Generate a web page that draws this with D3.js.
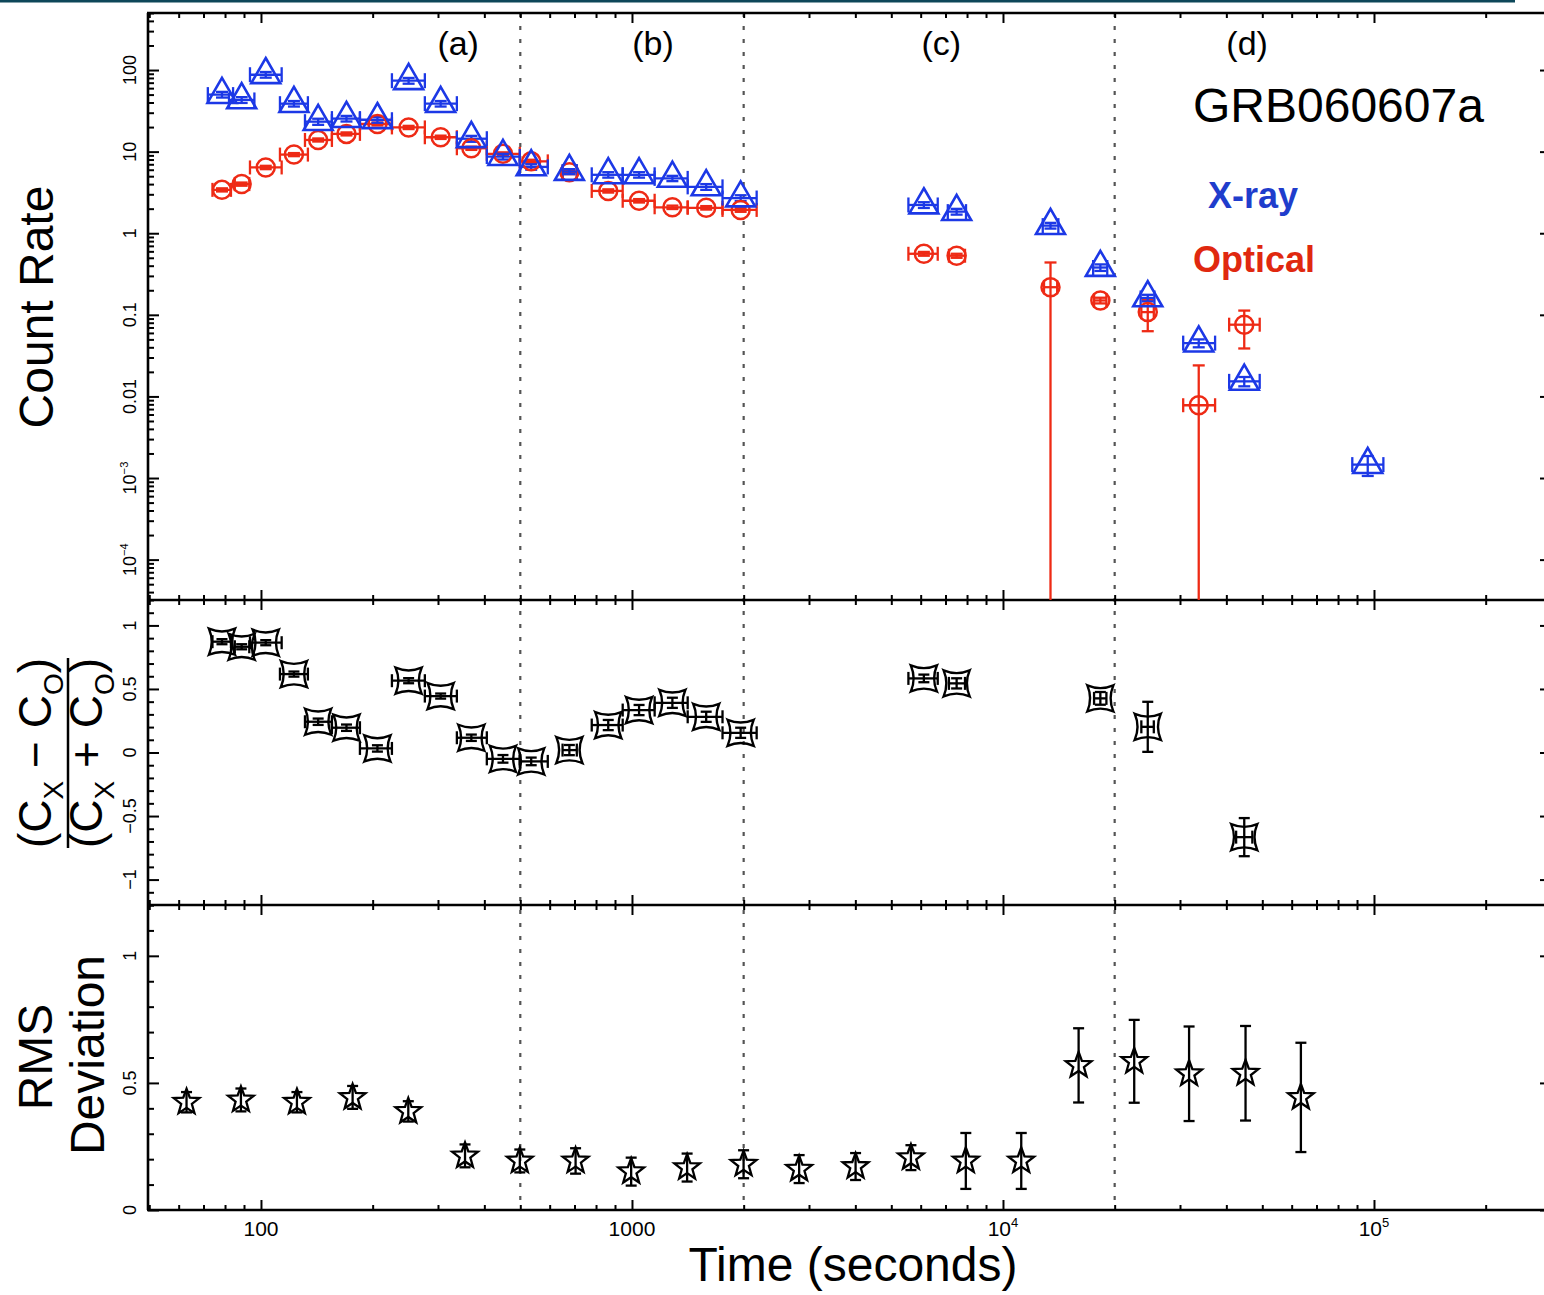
<!DOCTYPE html>
<html>
<head>
<meta charset="utf-8">
<script src="https://cdn.jsdelivr.net/npm/d3@7"></script>
<style>
body{margin:0;background:#fff;}
svg text{font-family:"Liberation Sans",Arial,Helvetica,sans-serif;fill:#000;}
</style>
</head>
<body>
<div id="graph"></div>
<script>
// ---- top panel: X-ray count rate (blue triangles)
var xray_t    = [78.5, 88.7, 103, 122.7, 142.6, 170, 206, 250, 305, 369, 449, 535, 678, 863, 1045, 1285, 1585, 1963, 6120, 7500, 13430, 18300, 24560, 33700, 44700, 96200];
var xray_tlo  = [71.9, 82, 93.4, 112.5, 131.4, 155.3, 184.8, 225.4, 276.5, 337.3, 406.2, 498.4, 650, 779, 944, 1151, 1413, 1754, 5560, 7100, 12800, 17500, 23500, 30600, 40700, 87400];
var xray_thi  = [84.1, 96, 113.7, 133.8, 155.3, 184.8, 225.4, 276.5, 337.3, 406.2, 498.4, 593, 710, 944, 1151, 1413, 1754, 2168, 6670, 7950, 14100, 19100, 25600, 37300, 49200, 106000];
var xray_rate = [50, 43, 87.6, 38.7, 23.3, 25.4, 24.6, 74, 38.7, 14.4, 8.7, 6.5, 5.7, 5.2, 5.2, 4.7, 3.7, 2.7, 2.22, 1.84, 1.24, 0.38, 0.161, 0.045, 0.0153, 0.00146];
var xray_err  = [4, 3.5, 7, 3, 2, 2, 2, 6, 3, 1.2, 0.7, 0.5, 0.4, 0.4, 0.4, 0.35, 0.3, 0.22, 0.18, 0.15, 0.1, 0.035, 0.015, 0.005, 0.002, 0.0004];

// ---- top panel: optical count rate (red circles)
var opt_t    = [78.5, 88.7, 103, 122.7, 142.6, 170, 206, 250, 305, 369, 449, 535, 678, 863, 1045, 1285, 1585, 1963, 6120, 7500, 13430, 18300, 24560, 33700, 44700];
var opt_tlo  = [74, 85, 93.4, 112.5, 131.4, 155.3, 184.8, 225.4, 276.5, 337.3, 406.2, 498.4, 650, 779, 944, 1151, 1413, 1754, 5560, 7150, 12900, 17600, 23600, 30600, 40700];
var opt_thi  = [83, 93, 113.7, 133.8, 155.3, 184.8, 225.4, 276.5, 337.3, 406.2, 498.4, 593, 710, 944, 1151, 1413, 1754, 2168, 6670, 7900, 14000, 19000, 25500, 37300, 49200];
var opt_rate = [3.4, 4.0, 6.4, 9.2, 13.9, 16.5, 21.8, 19.8, 15.0, 11.0, 9.4, 7.6, 5.6, 3.3, 2.5, 2.08, 2.05, 1.93, 0.56, 0.53, 0.218, 0.15, 0.108, 0.0078, 0.0757];
var opt_err  = [0.15, 0.18, 0.3, 0.4, 0.6, 0.7, 0.9, 0.9, 0.7, 0.5, 0.4, 0.35, 0.3, 0.15, 0.12, 0.1, 0.1, 0.1, 0.03, 0.03, 0.22, 0.012, 0.045, 0.0162, 0.037];

// ---- middle panel: hardness ratio (Cx-Co)/(Cx+Co)
var hr_t   = [78.5, 88.7, 103, 122.7, 142.6, 170, 206, 250, 305, 369, 449, 535, 678, 863, 1045, 1285, 1585, 1963, 6120, 7500, 18300, 24560, 44700];
var hr_tlo = [74, 85, 93.4, 112.5, 131.4, 155.3, 184.8, 225.4, 276.5, 337.3, 406.2, 498.4, 650, 779, 944, 1151, 1413, 1754, 5560, 7150, 17600, 23600, 42500];
var hr_thi = [83, 93, 113.7, 133.8, 155.3, 184.8, 225.4, 276.5, 337.3, 406.2, 498.4, 593, 710, 944, 1151, 1413, 1754, 2168, 6670, 7900, 19000, 25500, 47000];
var hr_val = [0.872, 0.832, 0.864, 0.617, 0.242, 0.195, 0.032, 0.565, 0.444, 0.116, -0.05, -0.07, 0.019, 0.216, 0.334, 0.391, 0.281, 0.155, 0.583, 0.544, 0.426, 0.202, -0.666];
var hr_err = [0.02, 0.02, 0.02, 0.02, 0.025, 0.025, 0.025, 0.02, 0.02, 0.025, 0.03, 0.03, 0.04, 0.04, 0.04, 0.04, 0.04, 0.04, 0.03, 0.04, 0.05, 0.197, 0.15];

// ---- bottom panel: RMS deviation
var rms_t   = [63, 88.3, 125, 176.6, 249.5, 354.8, 498.5, 704.7, 995, 1408, 1999, 2822, 4006, 5648, 7940, 11200, 15990, 22580, 31740, 45060, 63530];
var rms_val = [0.424, 0.433, 0.424, 0.443, 0.388, 0.213, 0.193, 0.193, 0.151, 0.167, 0.180, 0.161, 0.171, 0.206, 0.193, 0.193, 0.569, 0.585, 0.536, 0.538, 0.443];
var rms_err = [0.04, 0.045, 0.04, 0.045, 0.04, 0.045, 0.045, 0.05, 0.055, 0.055, 0.055, 0.055, 0.053, 0.049, 0.11, 0.11, 0.146, 0.163, 0.186, 0.186, 0.215];

// ---- axes / annotations
var y1_major = [1e-4, 1e-3, 0.01, 0.1, 1, 10, 100];
var y1_label = [["10","\u22124"], ["10","\u22123"], ["0.01"], ["0.1"], ["1"], ["10"], ["100"]];
var y2_major = [-1, -0.5, 0, 0.5, 1];
var y2_label = [["\u22121"], ["\u22120.5"], ["0"], ["0.5"], ["1"]];
var y3_major = [0, 0.5, 1];
var y3_label = [["0"], ["0.5"], ["1"]];
var x_major = [100, 1000, 1e4, 1e5];
var x_label = [["100"], ["1000"], ["10","4"], ["10","5"]];
var phase_bounds = [500, 2000, 20000];
var phase_names = ["(a)", "(b)", "(c)", "(d)"];
var phase_name_t = [340, 1140, 6820, 45500];

var blue = "#1c38e6", red = "#ee2a15";

var left = 148, right = 1551;
var top1 = 13, bot1 = 600, bot2 = 905, bot3 = 1210;

var svg = d3.select("#graph").append("svg")
  .attr("width", 1544)
  .attr("height", 1295);

svg.append("rect").attr("x",0).attr("y",0).attr("width",1515).attr("height",2.5).attr("fill","#0d4759");

var xscale = d3.scaleLog().domain([49.6, 3e5]).range([left, right]);
var y1 = d3.scaleLog().domain([3.2e-5, 500]).range([bot1, top1]);
var y2 = d3.scaleLinear().domain([-1.2, 1.2]).range([bot2, bot1]);
var y3 = d3.scaleLinear().domain([0, 1.2]).range([bot3, bot2]);

function log_minors(lo, hi){
  var out = [];
  for (var e = -6; e <= 6; e++){
    for (var k = 2; k <= 9; k++){
      var v = k*Math.pow(10,e);
      if (v >= lo && v <= hi) out.push(v);
    }
  }
  return out;
}
function lin_minors(lo, hi, step, majors){
  return d3.range(Math.round(lo/step), Math.round(hi/step)+1).map(function(i){ return +(i*step).toFixed(3); })
    .filter(function(v){ return majors.indexOf(v) < 0; });
}

function tick_axis(axis, vals, size, tr){
  var g = svg.append("g").attr("transform", tr);
  g.call(axis.tickValues(vals).tickSize(-size).tickSizeOuter(0).tickFormat(""));
  g.select(".domain").remove();
  g.selectAll(".tick line").attr("stroke","#000").attr("stroke-width",2);
  return g;
}

var x_minor = log_minors(49.6, 3e5);
var panels = [
  {y: y1, top: top1, bot: bot1, major: y1_major, minor: log_minors(3.2e-5, 500)},
  {y: y2, top: bot1, bot: bot2, major: y2_major, minor: lin_minors(-1.2, 1.2, 0.1, y2_major)},
  {y: y3, top: bot2, bot: bot3, major: y3_major, minor: lin_minors(0, 1.2, 0.1, y3_major)}
];

// dotted phase boundaries
phase_bounds.forEach(function(t){
  svg.append("line")
    .attr("x1", xscale(t)).attr("x2", xscale(t))
    .attr("y1", top1).attr("y2", bot3)
    .attr("stroke", "#555").attr("stroke-width", 2.2)
    .attr("stroke-dasharray", "4,9");
});

panels.forEach(function(p){
  tick_axis(d3.axisTop(xscale), x_major, 10, "translate(0," + p.top + ")");
  tick_axis(d3.axisTop(xscale), x_minor, 5, "translate(0," + p.top + ")");
  tick_axis(d3.axisBottom(xscale), x_major, 10, "translate(0," + p.bot + ")");
  tick_axis(d3.axisBottom(xscale), x_minor, 5, "translate(0," + p.bot + ")");
  tick_axis(d3.axisLeft(p.y), p.major, 11, "translate(" + left + ",0)");
  tick_axis(d3.axisLeft(p.y), p.minor, 6, "translate(" + left + ",0)");
  tick_axis(d3.axisRight(p.y), p.major, 11, "translate(" + right + ",0)");
  tick_axis(d3.axisRight(p.y), p.minor, 6, "translate(" + right + ",0)");
});

// frame
[top1, bot1, bot2, bot3].forEach(function(y){
  svg.append("line").attr("x1", left-1).attr("x2", right+1).attr("y1", y).attr("y2", y)
    .attr("stroke","#000").attr("stroke-width",2.6);
});
[left, right].forEach(function(x){
  svg.append("line").attr("x1", x).attr("x2", x).attr("y1", top1).attr("y2", bot3)
    .attr("stroke","#000").attr("stroke-width",2.6);
});

// tick labels (rotated on y axes)
function label_text(sel, parts, size){
  sel.append("tspan").text(parts[0]);
  if (parts.length > 1){
    sel.append("tspan").attr("dy", -size*0.45).style("font-size", (size*0.62) + "px").text(parts[1]);
  }
}
function y_labels(scale, vals, labels){
  vals.forEach(function(v, i){
    var t = svg.append("text")
      .attr("transform", "translate(136," + scale(v) + ") rotate(-90)")
      .attr("text-anchor", "middle")
      .style("font-size", "18px");
    label_text(t, labels[i], 18);
  });
}
y_labels(y1, y1_major, y1_label);
y_labels(y2, y2_major, y2_label);
y_labels(y3, y3_major, y3_label);

x_major.forEach(function(v, i){
  var t = svg.append("text")
    .attr("x", xscale(v)).attr("y", bot3 + 26)
    .attr("text-anchor", "middle")
    .style("font-size", "21px");
  label_text(t, x_label[i], 21);
});

// axis titles
svg.append("text")
  .attr("x", 853).attr("y", 1281)
  .attr("text-anchor", "middle")
  .style("font-size", "48px")
  .text("Time (seconds)");

function vtitle(x, y, str){
  svg.append("text")
    .attr("transform", "translate(" + x + "," + y + ") rotate(-90)")
    .attr("text-anchor", "middle")
    .style("font-size", "48px")
    .text(str);
}
vtitle(53, 307, "Count Rate");
vtitle(52, 1057, "RMS");
vtitle(104, 1055, "Deviation");

// fraction title for hardness ratio
var fr = svg.append("g").attr("transform", "translate(68,753) rotate(-90)");
[[-17, " \u2212 "], [34, " + "]].forEach(function(row){
  var t = fr.append("text").attr("y", row[0]).attr("text-anchor", "middle").style("font-size", "46px");
  t.append("tspan").text("(C");
  t.append("tspan").attr("dy", 12).style("font-size", "28px").text("X");
  t.append("tspan").attr("dy", -12).text(row[1] + "C");
  t.append("tspan").attr("dy", 12).style("font-size", "28px").text("O");
  t.append("tspan").attr("dy", -12).text(")");
});
fr.append("line").attr("x1", -95).attr("x2", 95).attr("y1", 0).attr("y2", 0)
  .attr("stroke", "#000").attr("stroke-width", 2.5);

// phase labels and legend
phase_names.forEach(function(n, i){
  svg.append("text")
    .attr("x", xscale(phase_name_t[i])).attr("y", 55)
    .attr("text-anchor", "middle")
    .style("font-size", "34px")
    .text(n);
});
svg.append("text").attr("x", 1193).attr("y", 122).style("font-size", "48px").text("GRB060607a");
svg.append("text").attr("x", 1208).attr("y", 208).style("font-size", "36px").style("font-weight", "bold")
  .style("fill", "#1f3dcc").text("X-ray");
svg.append("text").attr("x", 1193).attr("y", 272).style("font-size", "36px").style("font-weight", "bold")
  .style("fill", "#e0280f").text("Optical");

// ---- error bars
function draw_errors(data, ys, color, capH, capV){
  var g = svg.append("g").attr("stroke", color).attr("stroke-width", 2.3).attr("fill", "none");
  var ymin = ys.range()[0];
  data.forEach(function(d){
    var cx = xscale(d.t), cy = ys(d.v);
    if (d.lo !== undefined){
      var xa = xscale(d.lo), xb = xscale(d.hi);
      g.append("line").attr("x1", xa).attr("x2", xb).attr("y1", cy).attr("y2", cy);
      g.append("line").attr("x1", xa).attr("x2", xa).attr("y1", cy-capH).attr("y2", cy+capH);
      g.append("line").attr("x1", xb).attr("x2", xb).attr("y1", cy-capH).attr("y2", cy+capH);
    }
    var lowv = d.v - d.e;
    var ya = ys(d.v + d.e);
    var clipped = (ys.base !== undefined) && !(lowv > ys.domain()[0]);
    var yb = clipped ? ymin : ys(lowv);
    g.append("line").attr("x1", cx).attr("x2", cx).attr("y1", ya).attr("y2", yb);
    g.append("line").attr("x1", cx-capV).attr("x2", cx+capV).attr("y1", ya).attr("y2", ya);
    if (!clipped) g.append("line").attr("x1", cx-capV).attr("x2", cx+capV).attr("y1", yb).attr("y2", yb);
  });
}

function rows(t, lo, hi, v, e){
  return t.map(function(tt, i){
    return {t: tt, lo: lo ? lo[i] : undefined, hi: hi ? hi[i] : undefined, v: v[i], e: e[i]};
  });
}

var xray_d = rows(xray_t, xray_tlo, xray_thi, xray_rate, xray_err);
var opt_d  = rows(opt_t, opt_tlo, opt_thi, opt_rate, opt_err);
var hr_d   = rows(hr_t, hr_tlo, hr_thi, hr_val, hr_err);
var rms_d  = rows(rms_t, null, null, rms_val, rms_err);

draw_errors(opt_d, y1, red, 7, 6);
draw_errors(xray_d, y1, blue, 7.5, 6);
draw_errors(hr_d, y2, "#000", 6.5, 5.5);
draw_errors(rms_d, y3, "#000", 6, 5.5);

// ---- markers
var s = 29, h = s*Math.sqrt(3)/2;
var tri = "M0," + (-2*h/3) + "L" + (s/2) + "," + (h/3) + "L" + (-s/2) + "," + (h/3) + "Z";
var c = 13, q = 5.5;
var concave = "M" + (-c) + "," + (-c) + "Q0," + (-c+q) + " " + c + "," + (-c) +
  "Q" + (c-q) + ",0 " + c + "," + c + "Q0," + (c-q) + " " + (-c) + "," + c +
  "Q" + (-c+q) + ",0 " + (-c) + "," + (-c) + "Z";
var star = d3.range(10).map(function(i){
  var r = i % 2 ? 5.6 : 13.5, a = i*Math.PI/5 - Math.PI/2;
  return (i ? "L" : "M") + (r*Math.cos(a)).toFixed(2) + "," + (r*Math.sin(a)).toFixed(2);
}).join("") + "Z";

svg.append("g").selectAll("circle").data(opt_d).enter().append("circle")
  .attr("cx", function(d){ return xscale(d.t); })
  .attr("cy", function(d){ return y1(d.v); })
  .attr("r", 9)
  .attr("fill", "none").attr("stroke", red).attr("stroke-width", 2.5);

svg.append("g").selectAll("path").data(xray_d).enter().append("path")
  .attr("d", tri)
  .attr("transform", function(d){ return "translate(" + xscale(d.t) + "," + y1(d.v) + ")"; })
  .attr("fill", "none").attr("stroke", blue).attr("stroke-width", 2.6);

svg.append("g").selectAll("path").data(hr_d).enter().append("path")
  .attr("d", concave)
  .attr("transform", function(d){ return "translate(" + xscale(d.t) + "," + y2(d.v) + ")"; })
  .attr("fill", "none").attr("stroke", "#000").attr("stroke-width", 2.4);

svg.append("g").selectAll("path").data(rms_d).enter().append("path")
  .attr("d", star)
  .attr("transform", function(d){ return "translate(" + xscale(d.t) + "," + y3(d.v) + ")"; })
  .attr("fill", "none").attr("stroke", "#000").attr("stroke-width", 2.3);
</script>
</body>
</html>
